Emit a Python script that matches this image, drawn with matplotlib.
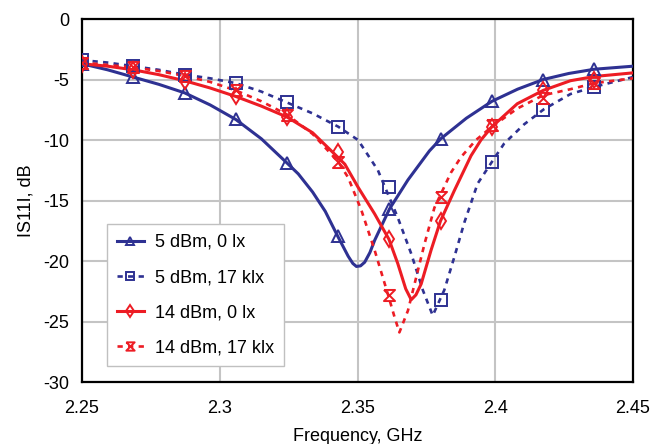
import matplotlib
matplotlib.use("Agg")
import matplotlib.pyplot as plt
from matplotlib.legend_handler import HandlerTuple

plt.rcParams["font.family"] = ["Liberation Sans", "DejaVu Sans"]
plt.rcParams["axes.unicode_minus"] = False

BLUE = "#2e3192"
RED = "#ed1c24"

# measured curves (GHz, dB)
f_5_0 = [2.25, 2.2593, 2.2686, 2.2779, 2.2872, 2.2965, 2.3058, 2.3151, 2.3244,
         2.3285, 2.3337, 2.3383, 2.3427, 2.3466, 2.3483, 2.3496, 2.3511, 2.3526,
         2.3545, 2.3562, 2.3616, 2.3683, 2.3761, 2.3802, 2.3895, 2.3988, 2.4081,
         2.4174, 2.4267, 2.436, 2.45]
s_5_0 = [-3.7, -4.2, -4.8, -5.4, -6.1, -7.1, -8.3, -9.9, -11.9,
         -12.8, -14.3, -15.9, -17.9, -19.6, -20.2, -20.45, -20.4, -20.1,
         -19.3, -18.3, -15.7, -13.3, -10.9, -9.9, -8.2, -6.8, -5.8,
         -5.0, -4.5, -4.15, -3.9]

f_5_17 = [2.25, 2.2593, 2.2686, 2.2779, 2.2872, 2.2965, 2.3058, 2.3151, 2.3244,
          2.3337, 2.343, 2.3502, 2.3574, 2.3646, 2.3695, 2.3737, 2.3773, 2.3815,
          2.3851, 2.3888, 2.3936, 2.3988, 2.4032, 2.4105, 2.4177, 2.4273, 2.436, 2.45]
s_5_17 = [-3.4, -3.6, -3.9, -4.2, -4.6, -4.9, -5.3, -6.0, -6.9,
          -7.8, -8.9, -10.0, -12.5, -16.4, -19.4, -22.4, -24.5, -22.4,
          -19.7, -16.8, -13.6, -11.8, -10.3, -8.7, -7.45, -6.2, -5.6, -4.8]

f_14_0 = [2.25, 2.2593, 2.2686, 2.2779, 2.2872, 2.2965, 2.3058, 2.3151, 2.3244,
          2.3337, 2.3405, 2.3454, 2.3502, 2.3562, 2.3614, 2.3646, 2.3675, 2.3695,
          2.3712, 2.3731, 2.3767, 2.3801, 2.3851, 2.3912, 2.3948, 2.3988, 2.408,
          2.4174, 2.4273, 2.436, 2.45]
s_14_0 = [-3.7, -3.9, -4.2, -4.6, -5.1, -5.7, -6.4, -7.2, -8.1,
          -9.4, -10.9, -12.0, -13.9, -16.1, -18.2, -20.2, -22.3, -23.2,
          -22.8, -21.9, -19.1, -16.7, -14.2, -11.3, -10.0, -8.9, -7.0,
          -5.9, -5.1, -4.75, -4.45]

f_14_17 = [2.25, 2.2593, 2.2686, 2.2779, 2.2872, 2.2965, 2.3058, 2.3151, 2.3244,
           2.3337, 2.343, 2.3466, 2.3514, 2.3562, 2.3611, 2.3634, 2.3652, 2.3683,
           2.3707, 2.3743, 2.3779, 2.3839, 2.3876, 2.393, 2.3988, 2.408, 2.4174,
           2.4273, 2.436, 2.45]
s_14_17 = [-3.6, -3.8, -4.0, -4.3, -4.7, -5.2, -5.9, -6.8, -7.9,
           -9.5, -11.8, -13.1, -15.8, -19.1, -22.8, -24.6, -25.9, -24.1,
           -21.9, -18.6, -15.6, -12.7, -11.4, -10.0, -8.9, -7.4, -6.3,
           -5.8, -5.3, -4.9]

# marker samples
mk_freq = [2.25, 2.2686, 2.2872, 2.3058, 2.3244, 2.343, 2.3616, 2.3802, 2.3988,
           2.4174, 2.436]
mk_5_0 = [-3.7, -4.8, -6.1, -8.3, -11.9, -17.9, -15.7, -9.9, -6.8, -5.0, -4.15]
mk_5_17 = [-3.4, -3.9, -4.6, -5.3, -6.9, -8.9, -13.9, -23.2, -11.8, -7.5, -5.6]
mk_14_0 = [-3.7, -4.2, -5.1, -6.4, -8.1, -11.0, -18.2, -16.7, -8.9, -5.9, -5.0]
mk_14_17 = [-3.6, -4.0, -4.7, -5.9, -7.9, -11.8, -22.8, -14.7, -8.8, -6.5, -5.3]

labels = ["5 dBm, 0 lx", "5 dBm, 17 klx", "14 dBm, 0 lx", "14 dBm, 17 klx"]
x_ticks = [2.25, 2.3, 2.35, 2.4, 2.45]
x_ticklabels = ["2.25", "2.3", "2.35", "2.4", "2.45"]
y_ticks = [0, -5, -10, -15, -20, -25, -30]

hourglass = [(-1, 1), (1, 1), (-1, -1), (1, -1), (-1, 1)]

series = [
    (f_5_0, s_5_0, mk_5_0, BLUE, "-", "^"),
    (f_5_17, s_5_17, mk_5_17, BLUE, "dotted", "s"),
    (f_14_0, s_14_0, mk_14_0, RED, "-", "d"),
    (f_14_17, s_14_17, mk_14_17, RED, "dotted", hourglass),
]

fig = plt.figure(figsize=(6.53, 4.44), dpi=100)
ax = fig.add_axes([0.1256, 0.1396, 0.8438, 0.8176])

handles = []
for f, s, mk, c, ls, m in series:
    if ls == "-":
        ln, = ax.plot(f, s, color=c, lw=2.2, zorder=3)
    else:
        ln, = ax.plot(f, s, color=c, lw=1.9, ls=(0, (2, 2)), zorder=3)
    pts, = ax.plot(mk_freq, mk, ls="none", marker=m, ms=8, mfc="none",
                   mec=c, mew=1.4, zorder=4)
    handles.append((ln, pts))

ax.set_xlim(2.25, 2.45)
ax.set_ylim(-30, 0)
ax.set_xticks(x_ticks)
ax.set_xticklabels(x_ticklabels)
ax.set_yticks(y_ticks)
ax.tick_params(length=0, labelsize=13)
ax.tick_params(axis="x", pad=13)
ax.tick_params(axis="y", pad=9)
ax.grid(True, color="#c4c4c4", lw=1.5)
ax.set_axisbelow(True)
for sp in ax.spines.values():
    sp.set_color("black")
    sp.set_linewidth(1.6)

ax.set_xlabel("Frequency, GHz", fontsize=13, labelpad=8)
ax.set_ylabel("IS11I, dB", fontsize=13, labelpad=6.5)

leg = ax.legend(handles, labels, handler_map={tuple: HandlerTuple(ndivide=1)},
                loc="lower left", bbox_to_anchor=(0.045, 0.044), borderaxespad=0,
                fontsize=13, numpoints=1, handlelength=1.5, labelspacing=1.0,
                handletextpad=0.6, borderpad=0.55, fancybox=False, framealpha=1,
                edgecolor="#c0c0c0", markerscale=0.75)
leg.get_frame().set_linewidth(1.0)

fig.savefig("out.png", dpi=100)
